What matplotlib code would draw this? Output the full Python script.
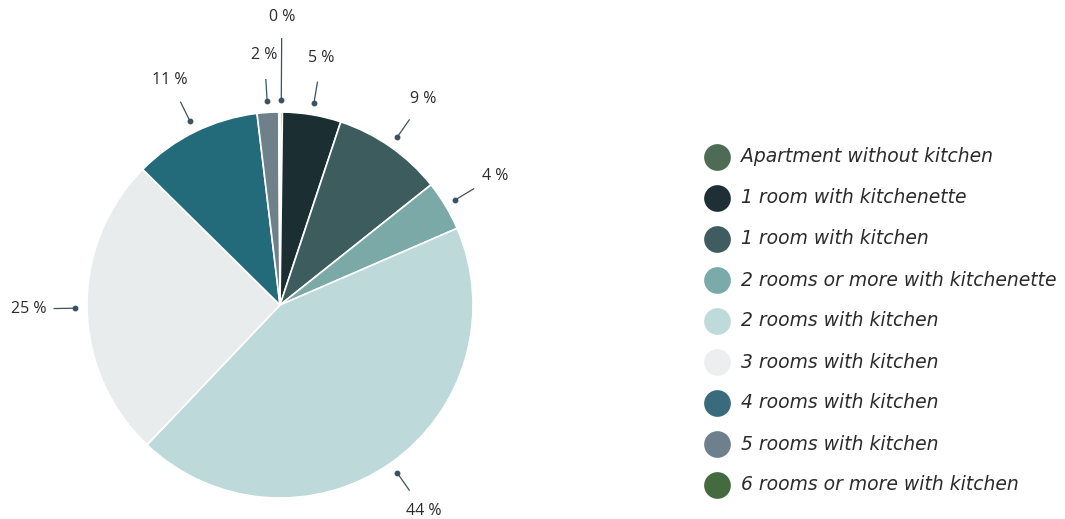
import numpy as np
import matplotlib
matplotlib.use("Agg")
import matplotlib.pyplot as plt

categories = ["Apartment without kitchen", "1 room with kitchenette", "1 room with kitchen",
              "2 rooms or more with kitchenette", "2 rooms with kitchen", "3 rooms with kitchen",
              "4 rooms with kitchen", "5 rooms with kitchen", "6 rooms or more with kitchen"]
values = [0.2, 4.9, 9.2, 4.2, 43.6, 25.3, 10.7, 1.8, 0.1]
labels = ["0 %", "5 %", "9 %", "4 %", "44 %", "25 %", "11 %", "2 %", None]
colors = ["#4a6b52", "#1b2f33", "#3d5c5e", "#7aa9a8", "#bdd9da", "#e9eced",
          "#236b7a", "#6e8089", "#426b3e"]
legend_colors = ["#4d6b55", "#1e3035", "#3f5c60", "#7aaaa9", "#bfdadb", "#eceef0",
                 "#3a6b7c", "#6e808b", "#436b3f"]

W, H = 1065, 519
cx, cy, R = 280, 305, 193
fig = plt.figure(figsize=(W / 100, H / 100), dpi=100)
ax = fig.add_axes([0, 0, 1, 1])

wedges, _ = ax.pie(values, colors=colors, startangle=90, counterclock=False, radius=1,
                   wedgeprops=dict(edgecolor="white", linewidth=1.2))
ax.set_aspect("auto")
ax.set_xlim(-cx / R, (W - cx) / R)
ax.set_ylim(-(H - cy) / R, cy / R)
ax.axis("off")

line_col = "#3b5263"
cum = np.cumsum([0] + values[:-1])
for i, (v, lab) in enumerate(zip(values, labels)):
    if lab is None:
        continue
    mid = (cum[i] + v / 2) / 100 * 2 * np.pi
    dx, dy = np.sin(mid), np.cos(mid)
    r_dot, r_end, r_txt = 1.06, 1.17, 1.30
    if lab == "0 %":
        r_end, r_txt = 1.38, 1.49
    ax.plot([r_dot * dx, r_end * dx], [r_dot * dy, r_end * dy], color=line_col, lw=0.9)
    ax.plot([r_dot * dx], [r_dot * dy], "o", color=line_col, ms=3.2)
    ax.text(r_txt * dx, r_txt * dy, lab, ha="center", va="center", fontsize=11.5,
            color="#2b2b2b", family="Open Sans")

# legend (pixel positions converted to data units)
y0, dy_leg = 157, 41
for i, (cat, c) in enumerate(zip(categories, legend_colors)):
    py = y0 + i * dy_leg
    ax.scatter([(717 - cx) / R], [(cy - py) / R], s=370, color=c, linewidths=0)
    ax.text((741 - cx) / R, (cy - py) / R, cat, ha="left", va="center", fontsize=13.5,
            style="italic", color="#2b2b2b", family="DejaVu Sans")

fig.savefig("out.png", dpi=100)
